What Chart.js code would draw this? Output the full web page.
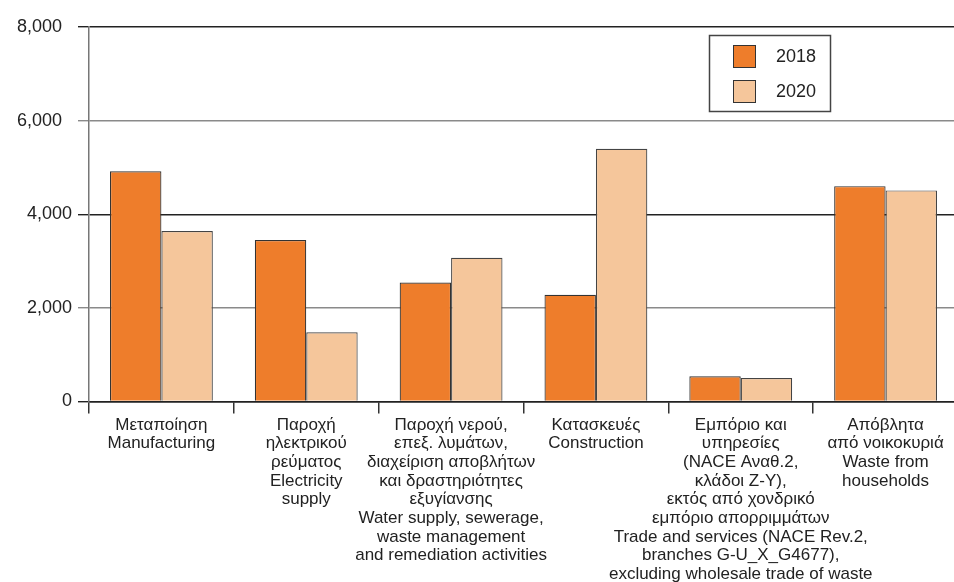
<!DOCTYPE html>
<html>
<head>
<meta charset="utf-8">
<script src="https://cdn.jsdelivr.net/npm/chart.js@4/dist/chart.umd.min.js"></script>
<style>
  html, body { margin: 0; padding: 0; background: #fff; overflow: hidden; }
  #wrap { position: relative; width: 962px; height: 582px; }
</style>
</head>
<body>
<div id="wrap"><canvas id="chart"></canvas></div>
<script>
// κατηγορίες (ελληνικά + αγγλικά)
const categories = [
  ['Μεταποίηση', 'Manufacturing'],
  ['Παροχή', 'ηλεκτρικού', 'ρεύματος', 'Electricity', 'supply'],
  ['Παροχή νερού,', 'επεξ. λυμάτων,', 'διαχείριση αποβλήτων', 'και δραστηριότητες', 'εξυγίανσης',
   'Water supply, sewerage,', 'waste management', 'and remediation activities'],
  ['Κατασκευές', 'Construction'],
  ['Εμπόριο και', 'υπηρεσίες', '(NACE Αναθ.2,', 'κλάδοι Ζ-Υ),', 'εκτός από χονδρικό', 'εμπόριο απορριμμάτων',
   'Trade and services (NACE Rev.2,', 'branches G-U_X_G4677),', 'excluding wholesale trade of waste'],
  ['Απόβλητα', 'από νοικοκυριά', 'Waste from', 'households']
];

const seriesNames = ['2018', '2020'];
const values2018 = [4920, 3450, 2540, 2280, 540, 4600];
const values2020 = [3640, 1480, 3070, 5400, 500, 4510];

const yMin = 0;
const yMax = 8000;
const yStep = 2000;

const font = '"Liberation Sans", Arial, sans-serif';

// υπόμνημα μέσα στο γράφημα
const boxLegend = {
  id: 'boxLegend',
  afterDraw(chart) {
    const ctx = chart.ctx;
    ctx.save();
    ctx.strokeStyle = '#444';
    ctx.lineWidth = 1.5;
    ctx.strokeRect(709.5, 35.5, 121, 76);
    chart.data.datasets.forEach((ds, i) => {
      const y = 45 + i * 35;
      ctx.fillStyle = ds.backgroundColor;
      ctx.fillRect(733, y, 23, 23);
      ctx.strokeStyle = '#333';
      ctx.lineWidth = 1;
      ctx.strokeRect(733.5, y + 0.5, 22, 22);
      ctx.fillStyle = '#222';
      ctx.font = '18px ' + font;
      ctx.textBaseline = 'middle';
      ctx.fillText(ds.label, 776, y + 12);
    });
    ctx.restore();
  }
};

new Chart(document.getElementById('chart'), {
  type: 'bar',
  data: {
    labels: categories,
    datasets: [
      { label: seriesNames[0], data: values2018, backgroundColor: '#EE7D2B', borderColor: '#333', borderWidth: 1.2 },
      { label: seriesNames[1], data: values2020, backgroundColor: '#F5C69B', borderColor: '#444', borderWidth: 1.2 }
    ]
  },
  options: {
    responsive: true,
    maintainAspectRatio: false,
    animation: false,
    layout: { padding: { top: 27, right: 4, left: 0, bottom: 0 } },
    datasets: { bar: { categoryPercentage: 0.71, barPercentage: 1.0 } },
    plugins: { legend: { display: false }, tooltip: { enabled: false } },
    scales: {
      x: {
        afterFit(scale) { scale.height = 180.5; },
        grid: { offset: true, drawOnChartArea: false, drawTicks: true, tickLength: 12, color: '#333', lineWidth: 1.5 },
        border: { color: '#222', width: 1.5 },
        ticks: {
          autoSkip: false, maxRotation: 0, padding: 2,
          color: '#222',
          font: { family: font, size: 17, lineHeight: 1.1 }
        }
      },
      y: {
        min: yMin, max: yMax,
        afterFit(scale) { scale.width = 89; },
        grid: {
          tickLength: 11,
          color: (c) => (c.tick && c.tick.value % 4000 === 0) ? '#222' : '#8a8a8a',
          lineWidth: 1.4
        },
        border: { color: '#777', width: 1.5 },
        ticks: {
          stepSize: yStep, padding: 6, color: '#222',
          font: { family: font, size: 18 },
          callback: (v) => v.toLocaleString('en-US') + (v >= 6000 ? '\u2007' : '')
        }
      }
    }
  },
  plugins: [boxLegend]
});
</script>
</body>
</html>
